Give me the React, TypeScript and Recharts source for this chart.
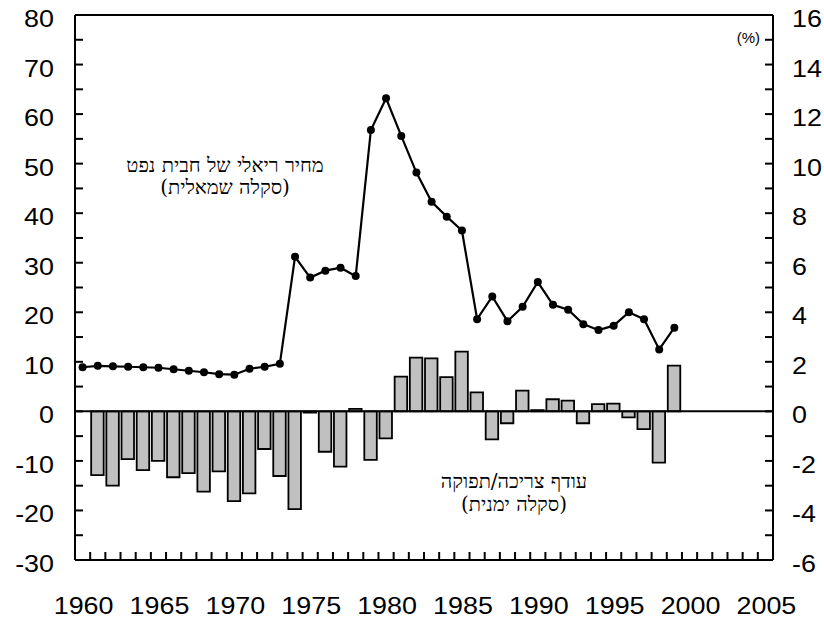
import React from 'react';
import {
	Bar,
	ComposedChart,
	Customized,
	Line,
	ReferenceLine,
	XAxis,
	YAxis,
} from 'recharts';

// categories: one per year, 1960..2005
const years = [
	1960, 1961, 1962, 1963, 1964, 1965, 1966, 1967, 1968, 1969,
	1970, 1971, 1972, 1973, 1974, 1975, 1976, 1977, 1978, 1979,
	1980, 1981, 1982, 1983, 1984, 1985, 1986, 1987, 1988, 1989,
	1990, 1991, 1992, 1993, 1994, 1995, 1996, 1997, 1998, 1999,
	2000, 2001, 2002, 2003, 2004, 2005,
];

// real price of an oil barrel (left scale), 1960..1999
const oilPrice = [
	8.9, 9.2, 9.1, 9.0, 8.9, 8.8, 8.5, 8.2, 7.9, 7.5,
	7.4, 8.6, 9.0, 9.6, 31.2, 27.0, 28.4, 29.0, 27.3, 56.8,
	63.2, 55.6, 48.2, 42.3, 39.3, 36.5, 18.6, 23.2, 18.2, 21.1,
	26.1, 21.5, 20.5, 17.6, 16.4, 17.3, 20.0, 18.6, 12.5, 16.9,
];

// excess demand / supply in % (right scale), 1960..1999
const excessDemand = [
	null, -2.57, -3.0, -1.93, -2.37, -2.0, -2.66, -2.49, -3.24, -2.42,
	-3.62, -3.31, -1.52, -2.61, -3.95, -0.05, -1.63, -2.23, 0.1, -1.96,
	-1.09, 1.4, 2.17, 2.14, 1.38, 2.41, 0.77, -1.13, -0.48, 0.84,
	0.05, 0.49, 0.43, -0.48, 0.29, 0.31, -0.24, -0.72, -2.07, 1.85,
];

const leftTicks = [
	-30, -25, -20, -15, -10, -5, 0, 5, 10, 15, 20, 25, 30, 35, 40, 45, 50, 55,
	60, 65, 70, 75, 80,
];
const rightTicks = [
	-6, -5, -4, -3, -2, -1, 0, 1, 2, 3, 4, 5, 6, 7, 8, 9, 10, 11, 12, 13, 14,
	15, 16,
];

const data = years.map((year, i) => ({
	year,
	price: i < oilPrice.length ? oilPrice[i] : null,
	excess: i < excessDemand.length ? excessDemand[i] : null,
}));

const W = 824;
const H = 621;
const SANS = "'Liberation Sans', Arial, sans-serif";
const SERIF = "'DejaVu Serif', 'Liberation Serif', serif";
const STRETCH = 1.12;

function LeftTick({ x, y, payload }: any) {
	const v = payload.value;
	return (
		<g>
			<line x1={x} x2={x + 8} y1={y} y2={y} stroke='#000' strokeWidth={2} />
			{v % 10 === 0 && (
				<text
					transform={`translate(${x - 21},${y + 12}) scale(${STRETCH},1)`}
					textAnchor='end'
					fontFamily={SANS}
					fontSize={24}
					fill='#000'
				>
					{v}
				</text>
			)}
		</g>
	);
}

function RightTick({ x, y, payload }: any) {
	const v = payload.value;
	return (
		<g>
			<line x1={x - 8} x2={x} y1={y} y2={y} stroke='#000' strokeWidth={2} />
			{v % 2 === 0 && (
				<text
					transform={`translate(${x + 19},${y + 12}) scale(${STRETCH},1)`}
					textAnchor='start'
					fontFamily={SANS}
					fontSize={24}
					fill='#000'
				>
					{v}
				</text>
			)}
		</g>
	);
}

function YearTick({ x, y, payload }: any) {
	const half = payload.offset || (773 - 75) / years.length / 2;
	const bx = x - half;
	return (
		<g>
			{payload.index > 0 && (
				<line x1={bx} x2={bx} y1={y - 8} y2={y} stroke='#000' strokeWidth={2} />
			)}
			{payload.value % 5 === 0 && (
				<text
					transform={`translate(${x + 1},${y + 54}) scale(${STRETCH},1)`}
					textAnchor='middle'
					fontFamily={SANS}
					fontSize={24}
					fill='#000'
				>
					{payload.value}
				</text>
			)}
		</g>
	);
}

function Notes() {
	return (
		<g fontFamily={SERIF} fontSize={20} fill='#000'>
			<text x={225} y={172} textAnchor='middle' direction='rtl'>
				מחיר ריאלי של חבית נפט
			</text>
			<text x={225} y={194} textAnchor='middle' direction='rtl'>
				(סקלה שמאלית)
			</text>
			<text x={514} y={488} textAnchor='middle' direction='rtl'>
				עודף צריכה/תפוקה
			</text>
			<text x={514} y={511} textAnchor='middle' direction='rtl'>
				(סקלה ימנית)
			</text>
			<text x={760} y={43} textAnchor='end' fontFamily={SANS} fontSize={15}>
				(%)
			</text>
		</g>
	);
}

export default function App() {
	return (
		<div style={{ position: 'absolute', left: 0, top: 0, background: '#fff' }}>
			<ComposedChart
				width={W}
				height={H}
				data={data}
				margin={{ top: 15, right: 0, bottom: 0, left: 0 }}
				barCategoryGap={0}
			>
				<XAxis
					dataKey='year'
					interval={0}
					height={61}
					tickLine={false}
					tickSize={0}
					tickMargin={0}
					tick={<YearTick />}
					axisLine={{ stroke: '#000', strokeWidth: 2 }}
				/>
				<YAxis
					yAxisId='left'
					orientation='left'
					width={75}
					domain={[-30, 80]}
					ticks={leftTicks}
					interval={0}
					tickLine={false}
					tickSize={0}
					tickMargin={0}
					tick={<LeftTick />}
					axisLine={{ stroke: '#000', strokeWidth: 2 }}
				/>
				<YAxis
					yAxisId='right'
					orientation='right'
					width={51}
					domain={[-6, 16]}
					ticks={rightTicks}
					interval={0}
					tickLine={false}
					tickSize={0}
					tickMargin={0}
					tick={<RightTick />}
					axisLine={{ stroke: '#000', strokeWidth: 2 }}
				/>
				<ReferenceLine yAxisId='left' y={80} stroke='#000' strokeWidth={2} />
				<Bar
					yAxisId='right'
					dataKey='excess'
					fill='#c0c0c0'
					stroke='#000'
					strokeWidth={1.8}
					barSize={12.5}
					isAnimationActive={false}
				/>
				<ReferenceLine yAxisId='right' y={0} stroke='#000' strokeWidth={2} />
				<Line
					yAxisId='left'
					type='linear'
					dataKey='price'
					stroke='#000'
					strokeWidth={2.2}
					dot={{ r: 4, fill: '#000', stroke: '#000', strokeWidth: 0 }}
					activeDot={false}
					isAnimationActive={false}
				/>
				<Customized component={Notes} />
			</ComposedChart>
		</div>
	);
}
